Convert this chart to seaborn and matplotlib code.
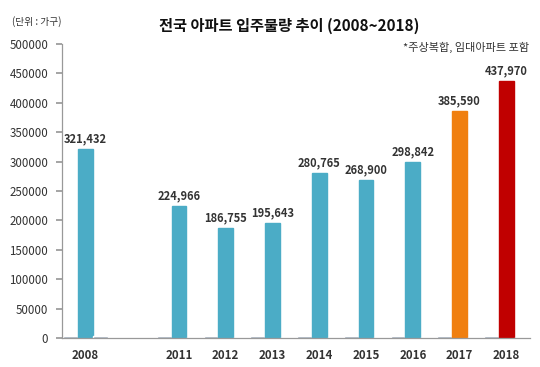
import matplotlib
matplotlib.use("Agg")
import matplotlib.pyplot as plt
import seaborn as sns
import pandas as pd
import numpy as np

years = ["2008", " ", "2011", "2012", "2013", "2014", "2015", "2016", "2017", "2018"]
main_years = ["2008", "2011", "2012", "2013", "2014", "2015", "2016", "2017", "2018"]
main_values = [321432, 224966, 186755, 195643, 280765, 268900, 298842, 385590, 437970]
stub_left = [3500, 3500, 3500, 3500, 3500, 3500, 3500, 3500, 3500]
stub_right = [3500, 0, 0, 0, 0, 0, 0, 0, 0]
bar_colors = ["#4BACC6"] * 7 + ["#F07F0F", "#C00000"]
yticks = [0, 50000, 100000, 150000, 200000, 250000, 300000, 350000, 400000, 450000, 500000]

sns.set_theme(style="white")
plt.rcParams["font.family"] = ["Noto Sans CJK KR", "DejaVu Sans"]

rows = []
for y, a, m, b in zip(main_years, stub_left, main_values, stub_right):
    rows.append((y, "a", a))
    rows.append((y, "m", m))
    rows.append((y, "b", b))
df = pd.DataFrame(rows, columns=["year", "series", "value"])

fig = plt.figure(figsize=(5.4, 3.67), dpi=100)
ax = fig.add_axes([0.115, 0.079, 0.866, 0.801])
sns.barplot(data=df, x="year", y="value", hue="series", order=years,
            hue_order=["a", "m", "b"], palette=["#8A98AA", "#4BACC6", "#8A98AA"],
            width=0.95, ax=ax, legend=False, saturation=1)

main_bars = list(ax.containers[1])
for p, c in zip(main_bars, bar_colors):
    p.set_facecolor(c)
    p.set_edgecolor(c)
for p, v in zip(main_bars, main_values):
    ax.text(p.get_x() + p.get_width() / 2, v + 6000, f"{v:,}", ha="center", va="bottom",
            fontsize=8, color="#333333", fontweight="semibold")

ax.set_ylim(0, 500000)
ax.set_xlim(-0.5, len(years) - 0.5)
ax.set_yticks(yticks)
ax.set_yticklabels([str(t) for t in yticks], fontsize=8.3, color="#333333")
ax.set_xticks(range(len(years)))
ax.set_xticklabels(years, fontsize=8.3, color="#333333", fontweight="semibold")
ax.set_xticks(np.arange(-0.5, len(years), 1.0), minor=True)
ax.tick_params(axis="x", which="major", length=0, pad=8)
ax.tick_params(axis="x", which="minor", length=4, color="#999999", direction="out")
ax.tick_params(axis="y", length=4, color="#999999", direction="out", pad=6, left=True)
ax.set_xlabel("")
ax.set_ylabel("")
for s in ["top", "right"]:
    ax.spines[s].set_visible(False)
for s in ["left", "bottom"]:
    ax.spines[s].set_color("#999999")
    ax.spines[s].set_linewidth(0.9)

fig.text(0.535, 0.93, "전국 아파트 입주물량 추이 (2008~2018)", ha="center", va="center",
         fontsize=11, fontweight="bold", color="#111111")
fig.text(0.022, 0.94, "(단위 : 가구)", ha="left", va="center", fontsize=7, color="#333333")
fig.text(0.98, 0.87, "*주상복합, 임대아파트 포함", ha="right", va="center", fontsize=8, color="#333333")

fig.savefig("out.png", dpi=100)
